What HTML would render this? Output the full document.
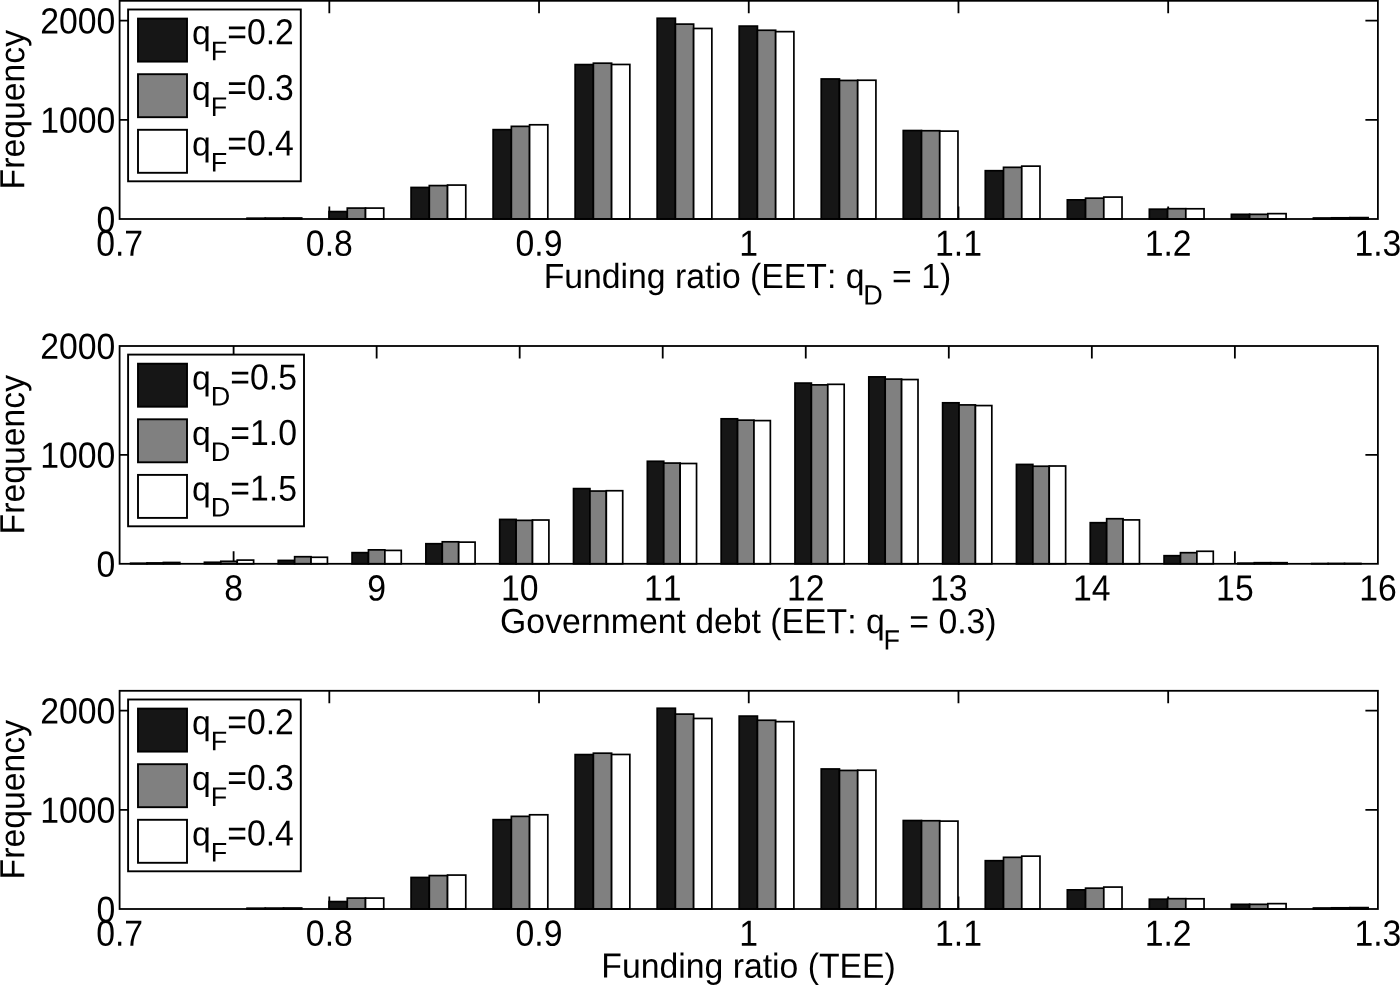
<!DOCTYPE html>
<html><head><meta charset="utf-8"><title>Histograms</title>
<style>html,body{margin:0;padding:0;background:#fff}svg{display:block}text{font-family:"Liberation Sans",Arial,Helvetica,sans-serif;font-size:33.75px;fill:#000;font-kerning:none;text-rendering:geometricPrecision}svg{will-change:transform}</style>
</head><body>
<svg width="1400" height="985" viewBox="0 0 1400 985">
<rect width="1400" height="985" fill="#fff"/>
<path d="M329.32 219 v-12.5 M329.32 0.8 v12.5" stroke="#000" stroke-width="1.8" fill="none"/>
<path d="M539.03 219 v-12.5 M539.03 0.8 v12.5" stroke="#000" stroke-width="1.8" fill="none"/>
<path d="M748.75 219 v-12.5 M748.75 0.8 v12.5" stroke="#000" stroke-width="1.8" fill="none"/>
<path d="M958.47 219 v-12.5 M958.47 0.8 v12.5" stroke="#000" stroke-width="1.8" fill="none"/>
<path d="M1168.18 219 v-12.5 M1168.18 0.8 v12.5" stroke="#000" stroke-width="1.8" fill="none"/>
<path d="M119.6 119.82 h12.5 M1377.9 119.82 h-12.5" stroke="#000" stroke-width="1.8" fill="none"/>
<path d="M119.6 20.64 h12.5 M1377.9 20.64 h-12.5" stroke="#000" stroke-width="1.8" fill="none"/>
<rect x="247.03" y="218.21" width="18.23" height="0.79" fill="#161616" stroke="#000" stroke-width="1.7"/>
<rect x="265.25" y="218.11" width="18.23" height="0.89" fill="#808080" stroke="#000" stroke-width="1.7"/>
<rect x="283.49" y="218.01" width="18.23" height="0.99" fill="#ffffff" stroke="#000" stroke-width="1.7"/>
<rect x="329.05" y="211.57" width="18.23" height="7.43" fill="#161616" stroke="#000" stroke-width="1.7"/>
<rect x="347.28" y="208.09" width="18.23" height="10.91" fill="#808080" stroke="#000" stroke-width="1.7"/>
<rect x="365.51" y="208.09" width="18.23" height="10.91" fill="#ffffff" stroke="#000" stroke-width="1.7"/>
<rect x="411.08" y="187.46" width="18.23" height="31.54" fill="#161616" stroke="#000" stroke-width="1.7"/>
<rect x="429.31" y="185.58" width="18.23" height="33.42" fill="#808080" stroke="#000" stroke-width="1.7"/>
<rect x="447.54" y="185.08" width="18.23" height="33.92" fill="#ffffff" stroke="#000" stroke-width="1.7"/>
<rect x="493.12" y="129.64" width="18.23" height="89.36" fill="#161616" stroke="#000" stroke-width="1.7"/>
<rect x="511.35" y="126.36" width="18.23" height="92.64" fill="#808080" stroke="#000" stroke-width="1.7"/>
<rect x="529.58" y="124.78" width="18.23" height="94.22" fill="#ffffff" stroke="#000" stroke-width="1.7"/>
<rect x="575.14" y="64.58" width="18.23" height="154.42" fill="#161616" stroke="#000" stroke-width="1.7"/>
<rect x="593.38" y="63.19" width="18.23" height="155.81" fill="#808080" stroke="#000" stroke-width="1.7"/>
<rect x="611.61" y="64.47" width="18.23" height="154.53" fill="#ffffff" stroke="#000" stroke-width="1.7"/>
<rect x="657.17" y="18.26" width="18.23" height="200.74" fill="#161616" stroke="#000" stroke-width="1.7"/>
<rect x="675.4" y="24.11" width="18.23" height="194.89" fill="#808080" stroke="#000" stroke-width="1.7"/>
<rect x="693.63" y="28.47" width="18.23" height="190.53" fill="#ffffff" stroke="#000" stroke-width="1.7"/>
<rect x="739.2" y="26.1" width="18.23" height="192.9" fill="#161616" stroke="#000" stroke-width="1.7"/>
<rect x="757.43" y="30.26" width="18.23" height="188.74" fill="#808080" stroke="#000" stroke-width="1.7"/>
<rect x="775.66" y="31.65" width="18.23" height="187.35" fill="#ffffff" stroke="#000" stroke-width="1.7"/>
<rect x="821.23" y="78.96" width="18.23" height="140.04" fill="#161616" stroke="#000" stroke-width="1.7"/>
<rect x="839.46" y="80.44" width="18.23" height="138.56" fill="#808080" stroke="#000" stroke-width="1.7"/>
<rect x="857.69" y="80.24" width="18.23" height="138.76" fill="#ffffff" stroke="#000" stroke-width="1.7"/>
<rect x="903.26" y="130.53" width="18.23" height="88.47" fill="#161616" stroke="#000" stroke-width="1.7"/>
<rect x="921.5" y="130.73" width="18.23" height="88.27" fill="#808080" stroke="#000" stroke-width="1.7"/>
<rect x="939.73" y="131.12" width="18.23" height="87.88" fill="#ffffff" stroke="#000" stroke-width="1.7"/>
<rect x="985.29" y="170.7" width="18.23" height="48.3" fill="#161616" stroke="#000" stroke-width="1.7"/>
<rect x="1003.52" y="167.33" width="18.23" height="51.67" fill="#808080" stroke="#000" stroke-width="1.7"/>
<rect x="1021.75" y="166.14" width="18.23" height="52.86" fill="#ffffff" stroke="#000" stroke-width="1.7"/>
<rect x="1067.33" y="199.86" width="18.23" height="19.14" fill="#161616" stroke="#000" stroke-width="1.7"/>
<rect x="1085.56" y="198.17" width="18.23" height="20.83" fill="#808080" stroke="#000" stroke-width="1.7"/>
<rect x="1103.79" y="197.08" width="18.23" height="21.92" fill="#ffffff" stroke="#000" stroke-width="1.7"/>
<rect x="1149.35" y="209.19" width="18.23" height="9.81" fill="#161616" stroke="#000" stroke-width="1.7"/>
<rect x="1167.58" y="208.69" width="18.23" height="10.31" fill="#808080" stroke="#000" stroke-width="1.7"/>
<rect x="1185.81" y="208.78" width="18.23" height="10.22" fill="#ffffff" stroke="#000" stroke-width="1.7"/>
<rect x="1231.38" y="214.34" width="18.23" height="4.66" fill="#161616" stroke="#000" stroke-width="1.7"/>
<rect x="1249.62" y="214.34" width="18.23" height="4.66" fill="#808080" stroke="#000" stroke-width="1.7"/>
<rect x="1267.85" y="213.64" width="18.23" height="5.36" fill="#ffffff" stroke="#000" stroke-width="1.7"/>
<rect x="1313.41" y="218.01" width="18.23" height="0.99" fill="#161616" stroke="#000" stroke-width="1.7"/>
<rect x="1331.64" y="217.81" width="18.23" height="1.19" fill="#808080" stroke="#000" stroke-width="1.7"/>
<rect x="1349.88" y="217.61" width="18.23" height="1.39" fill="#ffffff" stroke="#000" stroke-width="1.7"/>
<rect x="119.6" y="0.8" width="1258.3" height="218.2" fill="none" stroke="#000" stroke-width="1.8"/>
<text transform="translate(119.6 255.7) rotate(0.03) scale(1 1.08)" text-anchor="middle">0.7</text>
<text transform="translate(329.32 255.7) rotate(0.03) scale(1 1.08)" text-anchor="middle">0.8</text>
<text transform="translate(539.03 255.7) rotate(0.03) scale(1 1.08)" text-anchor="middle">0.9</text>
<text transform="translate(748.75 255.7) rotate(0.03) scale(1 1.08)" text-anchor="middle">1</text>
<text transform="translate(958.47 255.7) rotate(0.03) scale(1 1.08)" text-anchor="middle">1.1</text>
<text transform="translate(1168.18 255.7) rotate(0.03) scale(1 1.08)" text-anchor="middle">1.2</text>
<text transform="translate(1377.9 255.7) rotate(0.03) scale(1 1.08)" text-anchor="middle">1.3</text>
<text transform="translate(115.3 231.9) rotate(0.03) scale(1 1.08)" text-anchor="end">0</text>
<text transform="translate(115.3 132.72) rotate(0.03) scale(1 1.08)" text-anchor="end">1000</text>
<text transform="translate(115.3 33.54) rotate(0.03) scale(1 1.08)" text-anchor="end">2000</text>
<text transform="translate(24.3 109.65) rotate(-90.03) scale(1 1.03)" text-anchor="middle">Frequency</text>
<text transform="translate(747.45 288) rotate(0.03) scale(1 1.03)" text-anchor="middle">Funding ratio (EET: q<tspan font-size="27" dy="15.83" dx="-1.2">D</tspan><tspan dy="-15.83"> = 1)</tspan></text>
<rect x="128.1" y="9.5" width="172.7" height="171.8" fill="#fff" stroke="#000" stroke-width="1.9"/>
<rect x="138" y="18.6" width="49" height="43" fill="#161616" stroke="#000" stroke-width="1.9"/>
<text transform="translate(191.9 44.3) rotate(0.03) scale(1 1.0)">q</text>
<text transform="translate(210.67 60.3) rotate(0.03) scale(1 1.0)" style="font-size:27px">F</text>
<text transform="translate(227.26 44.3) rotate(0.03) scale(1 1.07)">=0.2</text>
<rect x="138" y="74.2" width="49" height="43" fill="#808080" stroke="#000" stroke-width="1.9"/>
<text transform="translate(191.9 99.9) rotate(0.03) scale(1 1.0)">q</text>
<text transform="translate(210.67 115.9) rotate(0.03) scale(1 1.0)" style="font-size:27px">F</text>
<text transform="translate(227.26 99.9) rotate(0.03) scale(1 1.07)">=0.3</text>
<rect x="138" y="129.8" width="49" height="43" fill="#ffffff" stroke="#000" stroke-width="1.9"/>
<text transform="translate(191.9 155.5) rotate(0.03) scale(1 1.0)">q</text>
<text transform="translate(210.67 171.5) rotate(0.03) scale(1 1.0)" style="font-size:27px">F</text>
<text transform="translate(227.26 155.5) rotate(0.03) scale(1 1.07)">=0.4</text>
<path d="M233.6 563.8 v-12.5 M233.6 346 v12.5" stroke="#000" stroke-width="1.8" fill="none"/>
<path d="M376.64 563.8 v-12.5 M376.64 346 v12.5" stroke="#000" stroke-width="1.8" fill="none"/>
<path d="M519.68 563.8 v-12.5 M519.68 346 v12.5" stroke="#000" stroke-width="1.8" fill="none"/>
<path d="M662.72 563.8 v-12.5 M662.72 346 v12.5" stroke="#000" stroke-width="1.8" fill="none"/>
<path d="M805.76 563.8 v-12.5 M805.76 346 v12.5" stroke="#000" stroke-width="1.8" fill="none"/>
<path d="M948.8 563.8 v-12.5 M948.8 346 v12.5" stroke="#000" stroke-width="1.8" fill="none"/>
<path d="M1091.84 563.8 v-12.5 M1091.84 346 v12.5" stroke="#000" stroke-width="1.8" fill="none"/>
<path d="M1234.88 563.8 v-12.5 M1234.88 346 v12.5" stroke="#000" stroke-width="1.8" fill="none"/>
<path d="M119.6 454.9 h12.5 M1377.9 454.9 h-12.5" stroke="#000" stroke-width="1.8" fill="none"/>
<rect x="130.6" y="563.26" width="16.4" height="0.54" fill="#161616" stroke="#000" stroke-width="1.7"/>
<rect x="147" y="562.93" width="16.4" height="0.87" fill="#808080" stroke="#000" stroke-width="1.7"/>
<rect x="163.4" y="562.49" width="16.4" height="1.31" fill="#ffffff" stroke="#000" stroke-width="1.7"/>
<rect x="204.42" y="562.28" width="16.4" height="1.52" fill="#161616" stroke="#000" stroke-width="1.7"/>
<rect x="220.82" y="561.3" width="16.4" height="2.5" fill="#808080" stroke="#000" stroke-width="1.7"/>
<rect x="237.22" y="560.1" width="16.4" height="3.7" fill="#ffffff" stroke="#000" stroke-width="1.7"/>
<rect x="278.24" y="560.42" width="16.4" height="3.38" fill="#161616" stroke="#000" stroke-width="1.7"/>
<rect x="294.64" y="556.72" width="16.4" height="7.08" fill="#808080" stroke="#000" stroke-width="1.7"/>
<rect x="311.04" y="557.27" width="16.4" height="6.53" fill="#ffffff" stroke="#000" stroke-width="1.7"/>
<rect x="352.06" y="552.65" width="16.4" height="11.15" fill="#161616" stroke="#000" stroke-width="1.7"/>
<rect x="368.46" y="549.86" width="16.4" height="13.94" fill="#808080" stroke="#000" stroke-width="1.7"/>
<rect x="384.86" y="550.41" width="16.4" height="13.39" fill="#ffffff" stroke="#000" stroke-width="1.7"/>
<rect x="425.88" y="543.72" width="16.4" height="20.08" fill="#161616" stroke="#000" stroke-width="1.7"/>
<rect x="442.28" y="541.8" width="16.4" height="22" fill="#808080" stroke="#000" stroke-width="1.7"/>
<rect x="458.68" y="542.13" width="16.4" height="21.67" fill="#ffffff" stroke="#000" stroke-width="1.7"/>
<rect x="499.7" y="519.43" width="16.4" height="44.37" fill="#161616" stroke="#000" stroke-width="1.7"/>
<rect x="516.1" y="520.35" width="16.4" height="43.45" fill="#808080" stroke="#000" stroke-width="1.7"/>
<rect x="532.5" y="520.02" width="16.4" height="43.78" fill="#ffffff" stroke="#000" stroke-width="1.7"/>
<rect x="573.52" y="488.61" width="16.4" height="75.19" fill="#161616" stroke="#000" stroke-width="1.7"/>
<rect x="589.92" y="491.05" width="16.4" height="72.75" fill="#808080" stroke="#000" stroke-width="1.7"/>
<rect x="606.32" y="490.73" width="16.4" height="73.07" fill="#ffffff" stroke="#000" stroke-width="1.7"/>
<rect x="647.34" y="461.28" width="16.4" height="102.52" fill="#161616" stroke="#000" stroke-width="1.7"/>
<rect x="663.74" y="463.07" width="16.4" height="100.73" fill="#808080" stroke="#000" stroke-width="1.7"/>
<rect x="680.14" y="463.5" width="16.4" height="100.3" fill="#ffffff" stroke="#000" stroke-width="1.7"/>
<rect x="721.16" y="418.81" width="16.4" height="144.99" fill="#161616" stroke="#000" stroke-width="1.7"/>
<rect x="737.56" y="420.16" width="16.4" height="143.64" fill="#808080" stroke="#000" stroke-width="1.7"/>
<rect x="753.96" y="420.6" width="16.4" height="143.2" fill="#ffffff" stroke="#000" stroke-width="1.7"/>
<rect x="794.98" y="383.09" width="16.4" height="180.71" fill="#161616" stroke="#000" stroke-width="1.7"/>
<rect x="811.38" y="384.88" width="16.4" height="178.92" fill="#808080" stroke="#000" stroke-width="1.7"/>
<rect x="827.78" y="384.33" width="16.4" height="179.47" fill="#ffffff" stroke="#000" stroke-width="1.7"/>
<rect x="868.8" y="376.88" width="16.4" height="186.92" fill="#161616" stroke="#000" stroke-width="1.7"/>
<rect x="885.2" y="379.11" width="16.4" height="184.69" fill="#808080" stroke="#000" stroke-width="1.7"/>
<rect x="901.6" y="379.54" width="16.4" height="184.26" fill="#ffffff" stroke="#000" stroke-width="1.7"/>
<rect x="942.62" y="402.8" width="16.4" height="161" fill="#161616" stroke="#000" stroke-width="1.7"/>
<rect x="959.02" y="404.91" width="16.4" height="158.89" fill="#808080" stroke="#000" stroke-width="1.7"/>
<rect x="975.42" y="405.57" width="16.4" height="158.23" fill="#ffffff" stroke="#000" stroke-width="1.7"/>
<rect x="1016.44" y="464.44" width="16.4" height="99.36" fill="#161616" stroke="#000" stroke-width="1.7"/>
<rect x="1032.84" y="466.23" width="16.4" height="97.57" fill="#808080" stroke="#000" stroke-width="1.7"/>
<rect x="1049.24" y="466.01" width="16.4" height="97.79" fill="#ffffff" stroke="#000" stroke-width="1.7"/>
<rect x="1090.26" y="522.7" width="16.4" height="41.1" fill="#161616" stroke="#000" stroke-width="1.7"/>
<rect x="1106.66" y="518.72" width="16.4" height="45.08" fill="#808080" stroke="#000" stroke-width="1.7"/>
<rect x="1123.06" y="519.91" width="16.4" height="43.89" fill="#ffffff" stroke="#000" stroke-width="1.7"/>
<rect x="1164.08" y="555.7" width="16.4" height="8.1" fill="#161616" stroke="#000" stroke-width="1.7"/>
<rect x="1180.48" y="552.69" width="16.4" height="11.11" fill="#808080" stroke="#000" stroke-width="1.7"/>
<rect x="1196.88" y="551.28" width="16.4" height="12.52" fill="#ffffff" stroke="#000" stroke-width="1.7"/>
<rect x="1237.9" y="563.15" width="16.4" height="0.65" fill="#161616" stroke="#000" stroke-width="1.7"/>
<rect x="1254.3" y="562.71" width="16.4" height="1.09" fill="#808080" stroke="#000" stroke-width="1.7"/>
<rect x="1270.7" y="562.71" width="16.4" height="1.09" fill="#ffffff" stroke="#000" stroke-width="1.7"/>
<rect x="1311.72" y="563.58" width="16.4" height="0.22" fill="#161616" stroke="#000" stroke-width="1.7"/>
<rect x="1328.12" y="563.47" width="16.4" height="0.33" fill="#808080" stroke="#000" stroke-width="1.7"/>
<rect x="1344.52" y="563.47" width="16.4" height="0.33" fill="#ffffff" stroke="#000" stroke-width="1.7"/>
<rect x="119.6" y="346" width="1258.3" height="217.8" fill="none" stroke="#000" stroke-width="1.8"/>
<text transform="translate(233.6 600.5) rotate(0.03) scale(1 1.08)" text-anchor="middle">8</text>
<text transform="translate(376.64 600.5) rotate(0.03) scale(1 1.08)" text-anchor="middle">9</text>
<text transform="translate(519.68 600.5) rotate(0.03) scale(1 1.08)" text-anchor="middle">10</text>
<text transform="translate(662.72 600.5) rotate(0.03) scale(1 1.08)" text-anchor="middle">11</text>
<text transform="translate(805.76 600.5) rotate(0.03) scale(1 1.08)" text-anchor="middle">12</text>
<text transform="translate(948.8 600.5) rotate(0.03) scale(1 1.08)" text-anchor="middle">13</text>
<text transform="translate(1091.84 600.5) rotate(0.03) scale(1 1.08)" text-anchor="middle">14</text>
<text transform="translate(1234.88 600.5) rotate(0.03) scale(1 1.08)" text-anchor="middle">15</text>
<text transform="translate(1377.92 600.5) rotate(0.03) scale(1 1.08)" text-anchor="middle">16</text>
<text transform="translate(115.3 576.7) rotate(0.03) scale(1 1.08)" text-anchor="end">0</text>
<text transform="translate(115.3 467.8) rotate(0.03) scale(1 1.08)" text-anchor="end">1000</text>
<text transform="translate(115.3 358.9) rotate(0.03) scale(1 1.08)" text-anchor="end">2000</text>
<text transform="translate(24.3 454.65) rotate(-90.03) scale(1 1.03)" text-anchor="middle">Frequency</text>
<text transform="translate(748.35 633.1) rotate(0.03) scale(1 1.03)" text-anchor="middle">Government debt (EET: q<tspan font-size="27" dy="15.83" dx="-1.2">F</tspan><tspan dy="-15.83"> = 0.3)</tspan></text>
<rect x="128.1" y="354.6" width="175.9" height="171.7" fill="#fff" stroke="#000" stroke-width="1.9"/>
<rect x="138" y="363.7" width="49" height="43" fill="#161616" stroke="#000" stroke-width="1.9"/>
<text transform="translate(191.9 389.4) rotate(0.03) scale(1 1.0)">q</text>
<text transform="translate(210.67 405.4) rotate(0.03) scale(1 1.0)" style="font-size:27px">D</text>
<text transform="translate(230.27 389.4) rotate(0.03) scale(1 1.07)">=0.5</text>
<rect x="138" y="419.3" width="49" height="43" fill="#808080" stroke="#000" stroke-width="1.9"/>
<text transform="translate(191.9 445) rotate(0.03) scale(1 1.0)">q</text>
<text transform="translate(210.67 461) rotate(0.03) scale(1 1.0)" style="font-size:27px">D</text>
<text transform="translate(230.27 445) rotate(0.03) scale(1 1.07)">=1.0</text>
<rect x="138" y="474.9" width="49" height="43" fill="#ffffff" stroke="#000" stroke-width="1.9"/>
<text transform="translate(191.9 500.6) rotate(0.03) scale(1 1.0)">q</text>
<text transform="translate(210.67 516.6) rotate(0.03) scale(1 1.0)" style="font-size:27px">D</text>
<text transform="translate(230.27 500.6) rotate(0.03) scale(1 1.07)">=1.5</text>
<path d="M329.32 909 v-12.5 M329.32 690.8 v12.5" stroke="#000" stroke-width="1.8" fill="none"/>
<path d="M539.03 909 v-12.5 M539.03 690.8 v12.5" stroke="#000" stroke-width="1.8" fill="none"/>
<path d="M748.75 909 v-12.5 M748.75 690.8 v12.5" stroke="#000" stroke-width="1.8" fill="none"/>
<path d="M958.47 909 v-12.5 M958.47 690.8 v12.5" stroke="#000" stroke-width="1.8" fill="none"/>
<path d="M1168.18 909 v-12.5 M1168.18 690.8 v12.5" stroke="#000" stroke-width="1.8" fill="none"/>
<path d="M119.6 809.82 h12.5 M1377.9 809.82 h-12.5" stroke="#000" stroke-width="1.8" fill="none"/>
<path d="M119.6 710.64 h12.5 M1377.9 710.64 h-12.5" stroke="#000" stroke-width="1.8" fill="none"/>
<rect x="247.03" y="908.21" width="18.23" height="0.79" fill="#161616" stroke="#000" stroke-width="1.7"/>
<rect x="265.25" y="908.11" width="18.23" height="0.89" fill="#808080" stroke="#000" stroke-width="1.7"/>
<rect x="283.49" y="908.01" width="18.23" height="0.99" fill="#ffffff" stroke="#000" stroke-width="1.7"/>
<rect x="329.05" y="901.57" width="18.23" height="7.43" fill="#161616" stroke="#000" stroke-width="1.7"/>
<rect x="347.28" y="898.09" width="18.23" height="10.91" fill="#808080" stroke="#000" stroke-width="1.7"/>
<rect x="365.51" y="898.09" width="18.23" height="10.91" fill="#ffffff" stroke="#000" stroke-width="1.7"/>
<rect x="411.08" y="877.46" width="18.23" height="31.54" fill="#161616" stroke="#000" stroke-width="1.7"/>
<rect x="429.31" y="875.58" width="18.23" height="33.42" fill="#808080" stroke="#000" stroke-width="1.7"/>
<rect x="447.54" y="875.08" width="18.23" height="33.92" fill="#ffffff" stroke="#000" stroke-width="1.7"/>
<rect x="493.12" y="819.64" width="18.23" height="89.36" fill="#161616" stroke="#000" stroke-width="1.7"/>
<rect x="511.35" y="816.36" width="18.23" height="92.64" fill="#808080" stroke="#000" stroke-width="1.7"/>
<rect x="529.58" y="814.78" width="18.23" height="94.22" fill="#ffffff" stroke="#000" stroke-width="1.7"/>
<rect x="575.14" y="754.58" width="18.23" height="154.42" fill="#161616" stroke="#000" stroke-width="1.7"/>
<rect x="593.38" y="753.19" width="18.23" height="155.81" fill="#808080" stroke="#000" stroke-width="1.7"/>
<rect x="611.61" y="754.47" width="18.23" height="154.53" fill="#ffffff" stroke="#000" stroke-width="1.7"/>
<rect x="657.17" y="708.26" width="18.23" height="200.74" fill="#161616" stroke="#000" stroke-width="1.7"/>
<rect x="675.4" y="714.11" width="18.23" height="194.89" fill="#808080" stroke="#000" stroke-width="1.7"/>
<rect x="693.63" y="718.47" width="18.23" height="190.53" fill="#ffffff" stroke="#000" stroke-width="1.7"/>
<rect x="739.2" y="716.1" width="18.23" height="192.9" fill="#161616" stroke="#000" stroke-width="1.7"/>
<rect x="757.43" y="720.26" width="18.23" height="188.74" fill="#808080" stroke="#000" stroke-width="1.7"/>
<rect x="775.66" y="721.65" width="18.23" height="187.35" fill="#ffffff" stroke="#000" stroke-width="1.7"/>
<rect x="821.23" y="768.96" width="18.23" height="140.04" fill="#161616" stroke="#000" stroke-width="1.7"/>
<rect x="839.46" y="770.44" width="18.23" height="138.56" fill="#808080" stroke="#000" stroke-width="1.7"/>
<rect x="857.69" y="770.24" width="18.23" height="138.76" fill="#ffffff" stroke="#000" stroke-width="1.7"/>
<rect x="903.26" y="820.53" width="18.23" height="88.47" fill="#161616" stroke="#000" stroke-width="1.7"/>
<rect x="921.5" y="820.73" width="18.23" height="88.27" fill="#808080" stroke="#000" stroke-width="1.7"/>
<rect x="939.73" y="821.12" width="18.23" height="87.88" fill="#ffffff" stroke="#000" stroke-width="1.7"/>
<rect x="985.29" y="860.7" width="18.23" height="48.3" fill="#161616" stroke="#000" stroke-width="1.7"/>
<rect x="1003.52" y="857.33" width="18.23" height="51.67" fill="#808080" stroke="#000" stroke-width="1.7"/>
<rect x="1021.75" y="856.14" width="18.23" height="52.86" fill="#ffffff" stroke="#000" stroke-width="1.7"/>
<rect x="1067.33" y="889.86" width="18.23" height="19.14" fill="#161616" stroke="#000" stroke-width="1.7"/>
<rect x="1085.56" y="888.17" width="18.23" height="20.83" fill="#808080" stroke="#000" stroke-width="1.7"/>
<rect x="1103.79" y="887.08" width="18.23" height="21.92" fill="#ffffff" stroke="#000" stroke-width="1.7"/>
<rect x="1149.35" y="899.19" width="18.23" height="9.81" fill="#161616" stroke="#000" stroke-width="1.7"/>
<rect x="1167.58" y="898.69" width="18.23" height="10.31" fill="#808080" stroke="#000" stroke-width="1.7"/>
<rect x="1185.81" y="898.78" width="18.23" height="10.22" fill="#ffffff" stroke="#000" stroke-width="1.7"/>
<rect x="1231.38" y="904.34" width="18.23" height="4.66" fill="#161616" stroke="#000" stroke-width="1.7"/>
<rect x="1249.62" y="904.34" width="18.23" height="4.66" fill="#808080" stroke="#000" stroke-width="1.7"/>
<rect x="1267.85" y="903.64" width="18.23" height="5.36" fill="#ffffff" stroke="#000" stroke-width="1.7"/>
<rect x="1313.41" y="908.01" width="18.23" height="0.99" fill="#161616" stroke="#000" stroke-width="1.7"/>
<rect x="1331.64" y="907.81" width="18.23" height="1.19" fill="#808080" stroke="#000" stroke-width="1.7"/>
<rect x="1349.88" y="907.61" width="18.23" height="1.39" fill="#ffffff" stroke="#000" stroke-width="1.7"/>
<rect x="119.6" y="690.8" width="1258.3" height="218.2" fill="none" stroke="#000" stroke-width="1.8"/>
<text transform="translate(119.6 945.7) rotate(0.03) scale(1 1.08)" text-anchor="middle">0.7</text>
<text transform="translate(329.32 945.7) rotate(0.03) scale(1 1.08)" text-anchor="middle">0.8</text>
<text transform="translate(539.03 945.7) rotate(0.03) scale(1 1.08)" text-anchor="middle">0.9</text>
<text transform="translate(748.75 945.7) rotate(0.03) scale(1 1.08)" text-anchor="middle">1</text>
<text transform="translate(958.47 945.7) rotate(0.03) scale(1 1.08)" text-anchor="middle">1.1</text>
<text transform="translate(1168.18 945.7) rotate(0.03) scale(1 1.08)" text-anchor="middle">1.2</text>
<text transform="translate(1377.9 945.7) rotate(0.03) scale(1 1.08)" text-anchor="middle">1.3</text>
<text transform="translate(115.3 921.9) rotate(0.03) scale(1 1.08)" text-anchor="end">0</text>
<text transform="translate(115.3 822.72) rotate(0.03) scale(1 1.08)" text-anchor="end">1000</text>
<text transform="translate(115.3 723.54) rotate(0.03) scale(1 1.08)" text-anchor="end">2000</text>
<text transform="translate(24.3 799.65) rotate(-90.03) scale(1 1.03)" text-anchor="middle">Frequency</text>
<text transform="translate(748.55 977.7) rotate(0.03) scale(1 1.03)" text-anchor="middle">Funding ratio (TEE)</text>
<rect x="128.1" y="699.5" width="172.7" height="171.8" fill="#fff" stroke="#000" stroke-width="1.9"/>
<rect x="138" y="708.6" width="49" height="43" fill="#161616" stroke="#000" stroke-width="1.9"/>
<text transform="translate(191.9 734.3) rotate(0.03) scale(1 1.0)">q</text>
<text transform="translate(210.67 750.3) rotate(0.03) scale(1 1.0)" style="font-size:27px">F</text>
<text transform="translate(227.26 734.3) rotate(0.03) scale(1 1.07)">=0.2</text>
<rect x="138" y="764.2" width="49" height="43" fill="#808080" stroke="#000" stroke-width="1.9"/>
<text transform="translate(191.9 789.9) rotate(0.03) scale(1 1.0)">q</text>
<text transform="translate(210.67 805.9) rotate(0.03) scale(1 1.0)" style="font-size:27px">F</text>
<text transform="translate(227.26 789.9) rotate(0.03) scale(1 1.07)">=0.3</text>
<rect x="138" y="819.8" width="49" height="43" fill="#ffffff" stroke="#000" stroke-width="1.9"/>
<text transform="translate(191.9 845.5) rotate(0.03) scale(1 1.0)">q</text>
<text transform="translate(210.67 861.5) rotate(0.03) scale(1 1.0)" style="font-size:27px">F</text>
<text transform="translate(227.26 845.5) rotate(0.03) scale(1 1.07)">=0.4</text>
</svg></body></html>
